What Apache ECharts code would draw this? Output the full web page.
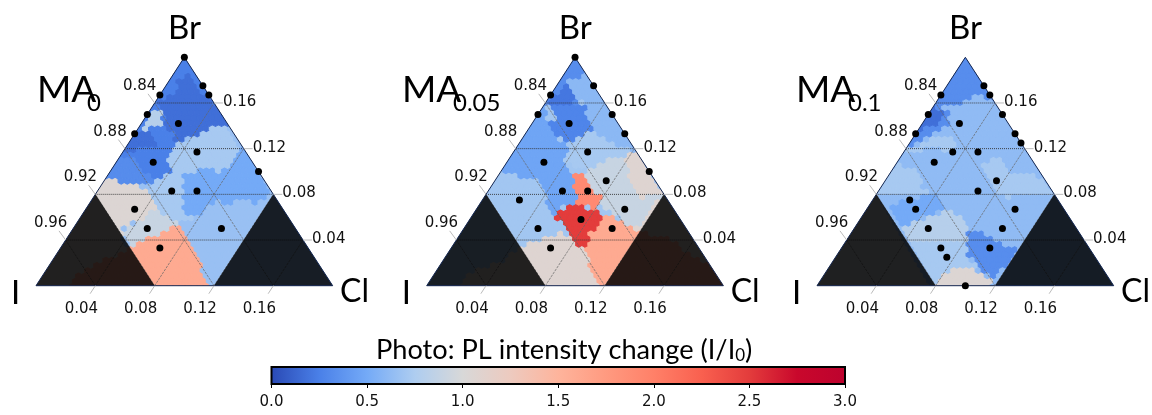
<!DOCTYPE html>
<html><head><meta charset="utf-8">
<style>html,body{margin:0;padding:0;background:#fff}#c{width:1152px;height:415px}</style>
<script src="https://cdn.jsdelivr.net/npm/echarts@6/dist/echarts.min.js"></script>
</head><body><div id="c"></div>
<script>
// composition values, per mille
const panelNames = ['0', '0.05', '0.1'];
const gridLevels = [40, 80, 120, 160];
const leftTicks = ['0.96', '0.92', '0.88', '0.84'];
const rightTicks = ['0.04', '0.08', '0.12', '0.16'];
const bottomTicks = ['0.04', '0.08', '0.12', '0.16'];
const cbarTicks = [0, 0.5, 1, 1.5, 2, 2.5, 3];
const cmap = ['#2a4ab5','#4a80e8','#74aaf7','#aecdf0','#d8d8d8','#edcabf','#feb49c','#ff9a80','#ff8068','#f9604f','#e33c3c','#c9082c','#bd022e'];

const dots0Br = [200,175,167,167,150,133,142,117,108,100,83,83,67,50,50,33];
const dots0Cl = [0,25,33,0,0,0,25,50,25,100,50,67,33,50,100,67];
const dots1Br = [200,175,167,150,150,133,142,117,108,100,92,83,83,75,67,58,50,50,33];
const dots1Cl = [0,25,0,50,0,67,25,50,25,100,75,50,67,25,100,75,50,100,67];
const dots2Br = [175,167,167,150,150,133,125,133,142,117,117,108,92,83,75,67,67,50,50,33,33,25,0];
const dots2Cl = [25,33,0,50,0,67,75,0,25,33,50,25,75,67,25,33,100,50,100,67,100,75,100];

// measured regions of the hexbin map: [I/I0, outline in ternary plane]
const regions0 = [
 [0.66,[[-10,-10],[210,-10],[100,210]]],
 [0.72,[[102,128],[115,141],[126,142],[138,122],[133,107],[107,60],[102,56],[90,58],[82,69],[77,84],[81,93],[93,101],[90,110],[95,125]]],
 [0.5,[[131,136],[160,80],[149,72],[138,78],[129,72],[122,75],[113,66],[107,60],[100,66],[99,98],[111,103],[124,101],[133,107],[138,122]]],
 [0.25,[[100,205],[135,139],[120,142],[111,133],[102,129],[95,125],[90,110],[93,101],[81,93],[77,88],[66,88],[45,97]]],
 [0.17,[[95,182],[103,185],[107,177],[118,163],[135,141],[120,142],[111,133],[102,129],[95,125],[93,133],[86,142],[87,150],[81,160],[90,168],[96,170]]],
 [0.17,[[66,136],[81,133],[80,122],[66,119],[55,120]]],
 [0.32,[[50,110],[66,113],[75,98],[81,93],[77,88],[66,88],[45,97]]],
 [0.8,[[81,157],[87,150],[84,142],[76,138],[72,138],[77,148]]],
 [1.05,[[-5,-5],[45,97],[66,88],[77,84],[82,69],[75,60],[61,53],[57,52],[60,30],[17,-5]]],
 [0.9,[[61,52],[70,58],[79,66],[82,69],[90,58],[99,56],[93,52],[77,43],[69,37],[64,33],[60,40]]],
 [1.6,[[17,-5],[32,14],[50,25],[62,33],[69,37],[77,43],[93,52],[99,53],[103,41],[106,31],[111,20],[113,11],[120,-5]]]
];
const regions1 = [
 [0.7,[[-10,-10],[210,-10],[100,210]]],
 [0.47,[[70,158],[45,103],[61,97],[76,94],[81,79],[81,69],[88,60],[90,68],[101,75],[100,98],[94,104],[96,116],[92,125],[85,136],[81,145],[80,158]]],
 [0.33,[[100,205],[108,185],[97,182],[94,173],[100,166],[101,160],[70,160]]],
 [0.6,[[108,185],[115,185],[145,130],[140,119],[133,120],[121,129],[112,138],[107,151],[110,158],[100,166],[94,173],[97,182]]],
 [0.21,[[82,163],[90,170],[94,180],[98,171],[101,163],[97,160],[81,159]]],
 [0.28,[[81,160],[101,159],[110,157],[107,150],[112,138],[101,128],[93,128],[83,136],[80,144],[88,148]]],
 [0.72,[[94,110],[101,128],[112,138],[121,129],[133,120],[140,119],[133,113],[121,110],[110,101],[101,103]]],
 [1.07,[[140,119],[210,-5],[200,11],[178,28],[162,43],[140,49],[137,80],[133,113]]],
 [0.9,[[110,101],[121,112],[133,113],[137,93],[144,78],[165,79],[153,72],[144,55],[137,52],[126,63],[117,68],[119,76],[112,87],[107,101]]],
 [1.07,[[17,-5],[31,14],[49,20],[62,33],[68,37],[81,44],[92,47],[100,39],[106,33],[111,17],[115,2],[119,-5]]],
 [1.6,[[119,62],[130,58],[140,49],[162,43],[178,28],[200,11],[210,-5],[119,-5],[115,2],[111,17],[106,33],[110,34],[110,46],[116,55]]],
 [1.9,[[104,103],[108,95],[112,87],[119,75],[115,66],[101,74],[100,93],[100,98]]],
 [2.5,[[90,66],[101,74],[113,65],[119,63],[116,55],[110,46],[110,34],[101,37],[98,40],[92,52],[88,60]]]
];
const regions2 = [
 [0.62,[[-10,-10],[210,-10],[100,210]]],
 [0.95,[[-5,-5],[78,-5],[39,80]]],
 [0.33,[[100,205],[125,175],[125,164],[104,167],[98,161],[81,160],[89,151],[89,142],[78,133],[69,128],[61,120],[50,120]]],
 [0.17,[[75,157],[81,157],[87,150],[80,139],[73,138],[65,138]]],
 [0.72,[[78,131],[89,133],[98,122],[92,119],[80,120],[60,119]]],
 [0.72,[[54,109],[66,101],[73,84],[81,80],[38,80],[45,95]]],
 [0.5,[[50,72],[68,78],[80,80],[88,70],[80,63],[65,58],[58,52]]],
 [0.72,[[109,107],[122,112],[129,101],[143,101],[152,93],[165,80],[127,78],[116,91],[113,98]]],
 [0.8,[[57,52],[68,58],[80,63],[89,68],[98,60],[102,46],[100,40],[102,34],[82,34],[68,40],[60,40]]],
 [0.72,[[61,40],[100,40],[104,22],[113,14],[96,17],[86,8],[80,-5]]],
 [1.05,[[80,-5],[86,11],[96,17],[107,15],[116,8],[120,-5]]],
 [0.33,[[102,49],[107,52],[113,46],[125,37],[136,34],[127,17],[120,6],[113,12],[107,20],[102,28],[102,37]]]
];
const allRegions = [regions0, regions1, regions2];
const allDots = [[dots0Br, dots0Cl], [dots1Br, dots1Cl], [dots2Br, dots2Cl]];

const panelLeft = [36, 426.7, 817];
const panelW = 296.7, panelTop = 57.3, panelH = 228.4;
const hexW = 4.1, hexRow = 4.6, hexR = hexRow / 1.5;

function inPoly(px, py, poly) {
  let c = false;
  for (let i = 0, j = poly.length - 1; i < poly.length; j = i++) {
    const a = poly[i], b = poly[j];
    if ((a[1] > py) !== (b[1] > py) && px < (b[0] - a[0]) * (py - a[1]) / (b[1] - a[1]) + a[0]) c = !c;
  }
  return c;
}
function cellsFor(regs) {
  const out = [];
  for (let j = 0; j * hexRow <= 206; j++) {
    const y = j * hexRow;
    for (let i = -1; i * hexW <= 206; i++) {
      const x = i * hexW + (j % 2 ? hexW / 2 : 0);
      if (x < y / 2 - 5 || x > 200 - y / 2 + 5) continue;
      let v = null;
      regs.forEach(r => { if (inPoly(x, y, r[1])) v = r[0]; });
      if (v !== null) out.push([x, y, v]);
    }
  }
  return out;
}
const colorOf = v => echarts.color.lerp(v / 3, cmap);
const tri = [[0, 0], [200, 0], [100, 200]];
const cornerL = [[0, 0], [80, 0], [40, 80]];
const cornerR = [[120, 0], [200, 0], [160, 80]];

const grids = [], xAxes = [], yAxes = [], series = [];
const tickFont = {fontFamily: 'DejaVu Sans', fontSize: 15, fill: '#111'};

panelLeft.forEach((left, p) => {
  grids.push({left, top: panelTop, width: panelW, height: panelH});
  xAxes.push({type: 'value', gridIndex: p, min: 0, max: 200, show: false});
  yAxes.push({type: 'value', gridIndex: p, min: 0, max: 200, show: false});
  const base = {xAxisIndex: p, yAxisIndex: p, type: 'custom', silent: true, clip: false, animation: false};

  series.push(Object.assign({}, base, {
    z: 2, data: cellsFor(allRegions[p]), encode: {x: 0, y: 1},
    renderItem(params, api) {
      const x = api.value(0), y = api.value(1), c = colorOf(api.value(2));
      const pts = [[0, hexR], [hexW / 2, hexR / 2], [hexW / 2, -hexR / 2], [0, -hexR], [-hexW / 2, -hexR / 2], [-hexW / 2, hexR / 2]]
        .map(d => api.coord([x + d[0], y + d[1]]));
      return {type: 'polygon', shape: {points: pts}, style: {fill: c, stroke: c, lineWidth: 1.1},
        clipPath: {type: 'polygon', shape: {points: tri.map(q => api.coord(q))}}};
    }
  }));

  // grid lines: kind 0 = Br const, 1 = Cl const or I const
  const segs = [];
  gridLevels.forEach(l => {
    segs.push([l / 2, l, 200 - l / 2, l, 0]);
    segs.push([l, 0, l + (200 - l) / 2, 200 - l, 1]);
    segs.push([200 - l, 0, (200 - l) / 2, 200 - l, 1]);
  });
  series.push(Object.assign({}, base, {
    z: 3, data: segs, encode: {x: 0, y: 1},
    renderItem(params, api) {
      const a = api.coord([api.value(0), api.value(1)]), b = api.coord([api.value(2), api.value(3)]);
      const horiz = api.value(4) === 0;
      return {type: 'line', shape: {x1: a[0], y1: a[1], x2: b[0], y2: b[1]},
        style: {stroke: horiz ? '#333' : '#666', lineWidth: horiz ? 0.9 : 0.7, lineDash: horiz ? [1, 1] : [2.5, 1]}};
    }
  }));

  // dark excluded corners
  series.push(Object.assign({}, base, {
    z: 4, data: [0, 1], 
    renderItem(params, api) {
      const q = params.dataIndex === 0 ? cornerL : cornerR;
      return {type: 'polygon', shape: {points: q.map(d => api.coord(d))}, style: {fill: 'rgba(0,0,0,0.85)'}};
    }
  }));

  // outline
  series.push(Object.assign({}, base, {
    z: 5, data: [0],
    renderItem(params, api) {
      return {type: 'polygon', shape: {points: tri.map(d => api.coord(d))}, style: {fill: 'none', stroke: '#14264f', lineWidth: 1}};
    }
  }));

  // ticks and tick labels
  const labels = [];
  gridLevels.forEach((l, i) => {
    labels.push([l / 2, l, -4.5, 8, -15, -17, leftTicks[i], 'center']);
    labels.push([200 - l / 2, l, 6, 0, 9, -1, rightTicks[i], 'left']);
    labels.push([l, 0, -3.5, -7, -14, 23, bottomTicks[i], 'center']);
  });
  series.push(Object.assign({}, base, {
    z: 6, data: labels.map((d, i) => [d[0], d[1], i]),
    renderItem(params, api) {
      const d = labels[params.dataIndex];
      const a = api.coord([d[0], d[1]]), b = api.coord([d[0] + d[2], d[1] + d[3]]);
      return {type: 'group', children: [
        {type: 'line', shape: {x1: a[0], y1: a[1], x2: b[0], y2: b[1]}, style: {stroke: '#bbb', lineWidth: 1}},
        {type: 'text', x: a[0] + d[4], y: a[1] + d[5], style: Object.assign({text: d[6], align: d[7], verticalAlign: 'middle'}, tickFont)}
      ]};
    }
  }));

  // measured compositions
  const br = allDots[p][0], cl = allDots[p][1];
  series.push({type: 'scatter', xAxisIndex: p, yAxisIndex: p, z: 7, silent: true, clip: false, animation: false,
    symbolSize: 7, itemStyle: {color: '#000', opacity: 1},
    data: br.map((b, i) => [cl[i] + b / 2, b])});
});

// colour bar
grids.push({left: 271.5, top: 367, width: 573.5, height: 17, show: true, backgroundColor: 'transparent', borderColor: '#000', borderWidth: 2, z: 5});
xAxes.push({type: 'value', gridIndex: 3, min: 0, max: 3, interval: 0.5, splitLine: {show: false},
  axisLine: {show: false}, axisTick: {show: true, length: 4, lineStyle: {color: '#000', width: 1}},
  axisLabel: {fontFamily: 'DejaVu Sans', fontSize: 15, color: '#111', margin: 11, formatter: v => v.toFixed(1), showMinLabel: true, showMaxLabel: true}});
yAxes.push({type: 'value', gridIndex: 3, min: 0, max: 1, show: false});
series.push({type: 'custom', xAxisIndex: 3, yAxisIndex: 3, silent: true, animation: false, data: [[0, 0, 3, 1]],
  renderItem(params, api) {
    const a = api.coord([api.value(0), api.value(3)]), b = api.coord([api.value(2), api.value(1)]);
    return {type: 'rect', shape: {x: a[0], y: a[1], width: b[0] - a[0], height: b[1] - a[1]},
      style: {fill: new echarts.graphic.LinearGradient(0, 0, 1, 0, cmap.map((c, i) => ({offset: i / (cmap.length - 1), color: c})))}};
  }});

// large labels
const bigFont = 'Lato';
const graphic = [];
const big = (text, x, y, size, align) => graphic.push({type: 'text', x, y, style: {text, fontFamily: bigFont, fontSize: size, fill: '#000', align: align || 'left', verticalAlign: 'middle'}});
panelLeft.forEach((l, p) => {
  big('Br', l + 148.5, 28, 33, 'center');
  big('I', l - 25, 293, 33);
  big('Cl', l + 304, 292, 32);
});
const maX = [37, 402, 796], subX = [87, 453, 848];
maX.forEach((x, p) => {
  big('MA', x, 90, 37);
  graphic.push({type: 'text', x: subX[p], y: 103, style: {text: panelNames[p], fontFamily: bigFont, fontSize: 24, fill: '#000', align: 'left', verticalAlign: 'middle'}});
});
graphic.push({type: 'text', x: 376, y: 350, style: {
  text: '{a|Photo: PL intensity change (I/I}{b|0}{a|)}', align: 'left', verticalAlign: 'middle',
  rich: {a: {fontFamily: bigFont, fontSize: 27.2, fill: '#000'}, b: {fontFamily: bigFont, fontSize: 17, fill: '#000', verticalAlign: 'bottom', padding: [12, 0, 0, 0]}}}});

const chart = echarts.init(document.getElementById('c'), null, {renderer: 'canvas'});
chart.setOption({animation: false, backgroundColor: '#fff', grid: grids, xAxis: xAxes, yAxis: yAxes, series, graphic});
</script></body></html>
